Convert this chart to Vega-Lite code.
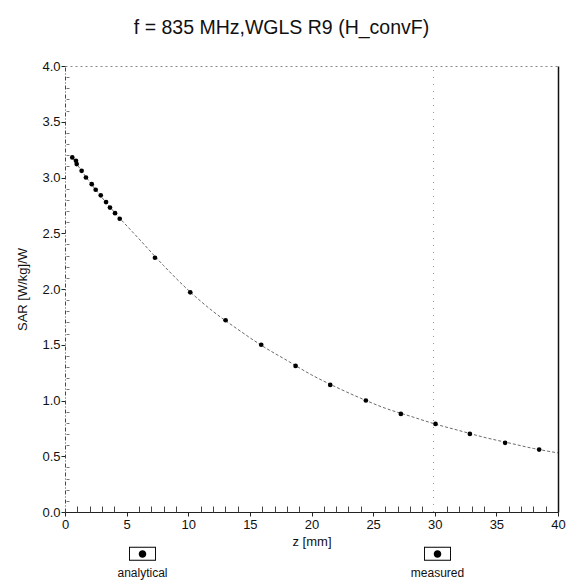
{
  "$schema": "https://vega.github.io/schema/vega-lite/v6.json",
  "width": 493,
  "height": 446,
  "autosize": {"type": "none"},
  "padding": {"left": 65, "top": 66, "right": 9, "bottom": 71},
  "background": "white",
  "config": {
    "font": "Liberation Sans",
    "view": {"stroke": null},
    "axis": {"grid": false, "labelFont": "Liberation Sans", "titleFont": "Liberation Sans", "labelColor": "#111", "titleColor": "#111", "labelFontSize": 13, "titleFontSize": 13, "titleFontWeight": "normal", "tickColor": "#222", "domainColor": "#222"}
  },
  "title": {
    "text": "f = 835 MHz,WGLS R9 (H_convF)",
    "font": "Liberation Sans",
    "fontSize": 19.5,
    "fontWeight": "normal",
    "color": "#111",
    "anchor": "middle",
    "dx": -30,
    "offset": 22
  },
  "datasets": {
    "measured": [
      {"z": 0.59, "sar": 3.18, "series": "measured"},
      {"z": 0.89, "sar": 3.15, "series": "measured"},
      {"z": 0.95, "sar": 3.12, "series": "measured"},
      {"z": 1.35, "sar": 3.06, "series": "measured"},
      {"z": 1.70, "sar": 3.00, "series": "measured"},
      {"z": 2.17, "sar": 2.94, "series": "measured"},
      {"z": 2.49, "sar": 2.89, "series": "measured"},
      {"z": 2.90, "sar": 2.84, "series": "measured"},
      {"z": 3.33, "sar": 2.78, "series": "measured"},
      {"z": 3.65, "sar": 2.73, "series": "measured"},
      {"z": 4.06, "sar": 2.68, "series": "measured"},
      {"z": 4.44, "sar": 2.63, "series": "measured"},
      {"z": 7.30, "sar": 2.28, "series": "measured"},
      {"z": 10.16, "sar": 1.97, "series": "measured"},
      {"z": 13.03, "sar": 1.72, "series": "measured"},
      {"z": 15.92, "sar": 1.50, "series": "measured"},
      {"z": 18.71, "sar": 1.31, "series": "measured"},
      {"z": 21.52, "sar": 1.14, "series": "measured"},
      {"z": 24.41, "sar": 1.00, "series": "measured"},
      {"z": 27.25, "sar": 0.88, "series": "measured"},
      {"z": 30.06, "sar": 0.79, "series": "measured"},
      {"z": 32.85, "sar": 0.70, "series": "measured"},
      {"z": 35.71, "sar": 0.62, "series": "measured"},
      {"z": 38.47, "sar": 0.56, "series": "measured"}
    ],
    "analytical": [
      {"z": 0.59, "sar": 3.18},
      {"z": 2, "sar": 2.96},
      {"z": 4, "sar": 2.69},
      {"z": 6, "sar": 2.45},
      {"z": 8, "sar": 2.21},
      {"z": 10, "sar": 1.99},
      {"z": 12, "sar": 1.80},
      {"z": 14, "sar": 1.64},
      {"z": 16, "sar": 1.49},
      {"z": 18, "sar": 1.36},
      {"z": 20, "sar": 1.23},
      {"z": 22, "sar": 1.12},
      {"z": 24, "sar": 1.02},
      {"z": 26, "sar": 0.93},
      {"z": 28, "sar": 0.86},
      {"z": 30, "sar": 0.79},
      {"z": 32, "sar": 0.73},
      {"z": 34, "sar": 0.67},
      {"z": 36, "sar": 0.62},
      {"z": 38, "sar": 0.57},
      {"z": 40, "sar": 0.53}
    ],
    "marker": [{"z": 29.9}]
  },
  "layer": [
    {
      "data": {"name": "analytical"},
      "mark": {"type": "line", "color": "#444", "strokeWidth": 0.8, "strokeDash": [3, 2], "interpolate": "monotone"},
      "encoding": {
        "x": {"field": "z", "type": "quantitative", "scale": {"domain": [0, 40], "nice": false, "zero": false},
          "axis": {"orient": "bottom", "values": [0, 5, 10, 15, 20, 25, 30, 35, 40], "tickSize": 4, "labelPadding": 2, "title": "z [mm]", "titlePadding": 4, "labelFlush": false, "domainWidth": 1}},
        "y": {"field": "sar", "type": "quantitative", "scale": {"domain": [0, 4], "nice": false, "zero": false},
          "axis": {"orient": "left", "values": [0, 0.5, 1, 1.5, 2, 2.5, 3, 3.5, 4], "format": ".1f", "tickSize": 4, "labelPadding": 1, "title": "SAR [W/kg]/W", "titlePadding": 12, "domainDash": [4, 2, 1, 2], "domainColor": "#444", "labelFlush": false}}
      }
    },
    {
      "data": {"name": "measured"},
      "mark": {"type": "point", "filled": true, "size": 22, "opacity": 1},
      "encoding": {
        "x": {"field": "z", "type": "quantitative", "scale": {"domain": [0, 40], "nice": false, "zero": false},
          "axis": {"orient": "bottom", "offset": -6, "values": [1,2,3,4,6,7,8,9,11,12,13,14,16,17,18,19,21,22,23,24,26,27,28,29,31,32,33,34,36,37,38,39], "ticks": true, "tickSize": 6, "labels": false, "domain": false, "title": null, "tickColor": "#444"}},
        "y": {"field": "sar", "type": "quantitative", "scale": {"domain": [0, 4], "nice": false, "zero": false},
          "axis": {"orient": "left", "offset": -4, "values": [0.1,0.2,0.3,0.4,0.6,0.7,0.8,0.9,1.1,1.2,1.3,1.4,1.6,1.7,1.8,1.9,2.1,2.2,2.3,2.4,2.6,2.7,2.8,2.9,3.1,3.2,3.3,3.4,3.6,3.7,3.8,3.9], "ticks": true, "tickSize": 3, "labels": false, "domain": false, "title": null, "tickColor": "#777"}},
        "color": {"field": "series", "type": "nominal",
          "scale": {"domain": ["analytical", "measured"], "range": ["black", "black"]},
          "legend": {
            "orient": "none", "legendX": 64, "legendY": 474, "direction": "horizontal", "title": null,
            "symbolType": "M-1,-0.52H1V0.52H-1Z M-0.93,-0.45V0.45H0.93V-0.45Z M-0.28,0.02A0.28,0.28 0 1,0 0.28,0.02A0.28,0.28 0 1,0 -0.28,0.02Z",
            "symbolSize": 729, "symbolFillColor": "black", "symbolStrokeWidth": 0,
            "labelFontSize": 12, "labelFont": "Liberation Sans", "labelColor": "#111",
            "labelAlign": "center", "labelOffset": -13.5, "columnPadding": 242,
            "labelBaseline": "top", "labelLineHeight": 11,
            "labelExpr": "['', datum.label]",
            "encode": {"symbols": {"update": {"fill": {"value": "black"}, "strokeWidth": {"value": 0}, "opacity": {"value": 1}}}}
          }}
      }
    },
    {
      "data": {"name": "marker"},
      "mark": {"type": "rule", "color": "#999", "strokeWidth": 1, "strokeDash": [1, 6]},
      "encoding": {
        "x": {"field": "z", "type": "quantitative", "scale": {"domain": [0, 40], "nice": false, "zero": false},
          "axis": {"orient": "top", "labels": false, "ticks": false, "title": null, "domainDash": [2, 3], "domainColor": "#888"}},
        "y": {"datum": 0, "type": "quantitative", "scale": {"domain": [0, 4], "nice": false, "zero": false},
          "axis": {"orient": "right", "labels": false, "ticks": false, "title": null, "domainColor": "#111", "domainWidth": 1.5}},
        "y2": {"datum": 3.98}
      }
    }
  ],
  "resolve": {"axis": {"x": "independent", "y": "independent"}}
}
